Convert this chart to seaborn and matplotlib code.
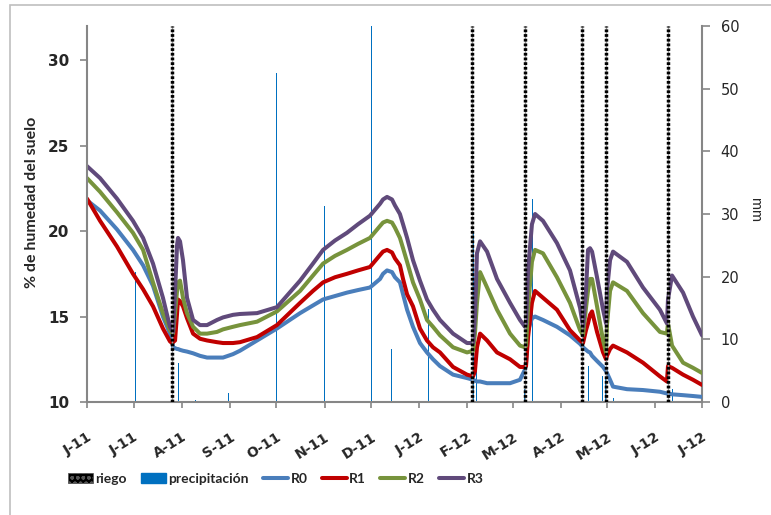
import pandas as pd
import matplotlib
matplotlib.use("Agg")
import matplotlib.pyplot as plt
from matplotlib.lines import Line2D
from matplotlib.patches import Patch, Rectangle
import seaborn as sns

inicio = pd.Timestamp("2011-06-01")

# días transcurridos desde el 1 de junio de 2011
dias = [0, 8.4, 19.3, 29.6, 36.1, 42.5, 48.9, 53.4, 54.7, 55.4,
        56.7, 58.0, 58.6, 59.9, 61.8, 64.4, 68.3, 72.8, 77.3, 83.7,
        87.6, 94.0, 98.5, 109.5, 122.3, 137.2, 145.5, 152.0, 159.7, 167.4,
        174.5, 182.2, 188.7, 190.6, 193.2, 196.4, 198.3, 201.5, 203.5, 206.1,
        209.9, 214.4, 218.9, 222.8, 227.3, 235.7, 244.7, 248.6, 249.8, 251.1,
        253.1, 257.6, 264.0, 272.4, 278.8, 282.0, 282.7, 284.0, 286.5, 288.5,
        293.6, 302.6, 311.0, 317.5, 319.4, 321.3, 322.6, 323.9, 325.2, 328.4,
        332.3, 334.2, 334.8, 336.8, 338.7, 347.7, 358.0, 368.9, 373.4, 374.1,
        376.7, 383.8, 390.2, 396.0]

r0 = [21.8, 21.2, 20.1, 18.9, 18.0, 16.8, 15.0, 14.0, 13.7, 13.2,
      13.15, 13.1, 13.1, 13.05, 13.0, 12.95, 12.85, 12.7, 12.6, 12.6,
      12.6, 12.8, 13.0, 13.6, 14.3, 15.2, 15.65, 16.0, 16.2, 16.4,
      16.55, 16.7, 17.2, 17.5, 17.7, 17.6, 17.3, 17.0, 16.3, 15.4,
      14.4, 13.45, 12.9, 12.5, 12.1, 11.6, 11.4, 11.3, 11.25, 11.2,
      11.2, 11.1, 11.1, 11.1, 11.3, 11.9, 12.3, 14.2, 14.9, 15.0,
      14.8, 14.4, 13.9, 13.4, 13.2, 13.05, 12.95, 12.9, 12.7, 12.4,
      12.05, 11.8, 11.7, 11.3, 10.9, 10.75, 10.7, 10.6, 10.5, 10.5,
      10.45, 10.4, 10.35, 10.3]

r1 = [21.9, 20.6, 19.1, 17.5, 16.6, 15.6, 14.3, 13.55, 13.45, 13.5,
      13.6, 15.2, 16.0, 15.9, 15.6, 14.9, 14.0, 13.7, 13.6, 13.5,
      13.45, 13.45, 13.5, 13.8, 14.5, 15.8, 16.5, 17.0, 17.3, 17.5,
      17.7, 17.9, 18.6, 18.8, 18.9, 18.75, 18.4, 18.0, 17.2, 16.3,
      15.6, 14.3, 13.6, 13.2, 12.9, 12.05, 11.6, 11.5, 11.8, 13.2,
      14.0, 13.6, 12.9, 12.5, 12.05, 12.05, 12.1, 13.8, 15.8, 16.5,
      16.1, 15.4, 14.2, 13.6, 13.45, 14.2, 14.6, 15.1, 15.3, 14.1,
      12.9, 12.5, 12.7, 13.1, 13.3, 12.9, 12.3, 11.5, 11.2, 12.1,
      12.0, 11.6, 11.3, 11.0]

r2 = [23.1, 22.3, 21.1, 19.9, 18.9, 17.0, 15.2, 14.2, 14.05, 14.0,
      15.2, 16.5, 17.0, 17.1, 16.1, 15.2, 14.4, 14.0, 14.0, 14.1,
      14.25, 14.4, 14.5, 14.7, 15.3, 16.5, 17.4, 18.1, 18.55, 18.9,
      19.25, 19.6, 20.3, 20.5, 20.6, 20.5, 20.2, 19.6, 19.0, 18.2,
      17.0, 16.0, 14.8, 14.4, 13.9, 13.2, 12.9, 13.0, 14.0, 15.8,
      17.6, 16.7, 15.4, 14.0, 13.3, 13.2, 13.3, 15.5, 18.2, 18.9,
      18.7, 17.3, 15.8, 14.2, 13.9, 15.5, 16.5, 17.2, 17.2, 15.6,
      13.6, 12.9, 14.5, 16.5, 17.0, 16.5, 15.2, 14.1, 14.0, 14.6,
      13.3, 12.3, 12.0, 11.7]

r3 = [23.8, 23.1, 21.9, 20.6, 19.6, 18.1, 16.1, 14.4, 14.2, 14.1,
      16.5, 19.2, 19.6, 19.4, 18.3, 16.1, 14.8, 14.5, 14.5, 14.8,
      14.95, 15.1, 15.15, 15.2, 15.55, 17.1, 18.1, 18.9, 19.45, 19.9,
      20.4, 20.9, 21.6, 21.85, 22.0, 21.85, 21.5, 21.0, 20.4, 19.6,
      18.3, 17.1, 16.0, 15.4, 14.8, 14.0, 13.45, 13.45, 15.0, 18.7,
      19.4, 18.8, 17.2, 15.8, 14.8, 14.4, 14.6, 17.7, 20.4, 21.0,
      20.6, 19.3, 17.7, 15.5, 14.4, 16.5, 18.9, 19.0, 18.8, 17.3,
      15.4, 14.6, 16.5, 18.3, 18.8, 18.2, 16.7, 15.4, 14.6, 16.0,
      17.4, 16.4, 15.0, 13.9]

lluvia_fechas = ["2011-06-01", "2011-07-02", "2011-07-26", "2011-07-30", "2011-08-10",
                 "2011-08-31", "2011-10-01", "2011-11-01", "2011-12-01", "2011-12-14",
                 "2012-01-07", "2012-02-05", "2012-02-07", "2012-03-09", "2012-03-14",
                 "2012-04-15", "2012-04-19", "2012-04-28", "2012-04-30", "2012-05-05",
                 "2012-06-12"]
lluvia_mm = [44, 20.7, 3, 6.2, 0.3,
             1.4, 52.5, 31.3, 60, 8.5,
             14.8, 27, 5, 2, 32.4,
             20, 5.7, 4.1, 4, 0.7,
             2]

riego_fechas = ["2011-07-26", "2012-02-04", "2012-03-09", "2012-04-15", "2012-04-30", "2012-06-09"]

etiquetas_meses = ["J-11", "J-11", "A-11", "S-11", "O-11", "N-11", "D-11",
                   "J-12", "F-12", "M-12", "A-12", "M-12", "J-12", "J-12"]

series = {"R0": r0, "R1": r1, "R2": r2, "R3": r3}
colores = {"R0": "#4A7EBB", "R1": "#C00000", "R2": "#77933C", "R3": "#604A7B"}
azul_lluvia = "#0070C0"
gris_eje = "#868686"

fechas = inicio + pd.to_timedelta(dias, unit="D")
humedad = pd.concat(
    [pd.DataFrame({"fecha": fechas, "humedad": v, "serie": k}) for k, v in series.items()],
    ignore_index=True,
)
lluvia = pd.DataFrame({"fecha": pd.to_datetime(lluvia_fechas), "mm": lluvia_mm})
riego = pd.to_datetime(riego_fechas)
meses = pd.date_range("2011-06-01", "2012-07-01", freq="MS")

sns.set_style("white")
plt.rcParams["font.family"] = ["DejaVu Sans"]

W, H = 771, 515
fig = plt.figure(figsize=(W / 100, H / 100), dpi=100)
fig.patches.append(Rectangle((10 / W, -0.1), 1.2, 1 - 5 / H + 0.1, transform=fig.transFigure,
                             fill=False, edgecolor="#BFBFBF", linewidth=1.2))

ax = fig.add_axes([87 / W, 1 - 402 / H, 615 / W, 376 / H])
ax2 = ax.twinx()

# precipitación en el eje secundario (mm)
ax2.bar(lluvia["fecha"], lluvia["mm"], width=0.8, color=azul_lluvia, linewidth=0)
ax2.set_ylim(0, 60)
ax2.set_yticks(range(0, 61, 10))

ax.set_zorder(ax2.get_zorder() + 1)
ax.patch.set_visible(False)

sns.lineplot(data=humedad, x="fecha", y="humedad", hue="serie", palette=colores,
             sort=False, estimator=None, linewidth=2.9, legend=False, ax=ax,
             solid_joinstyle="round", solid_capstyle="round")

# fechas de riego
for f in riego:
    ax.axvline(f, color="#9A9A9A", linewidth=1.0, zorder=5)
    ax.axvline(f, color="black", linewidth=2.5, linestyle=(0, (0.8, 0.55)), zorder=6)

ax.set_xlim(meses[0], meses[-1])
ax.set_ylim(10, 32)
ax.set_yticks([10, 15, 20, 25, 30])
ax.set_yticklabels(["10", "15", "20", "25", "30"], fontweight="bold", fontsize=11)
ax.set_xticks(meses)
ax.set_xticklabels(etiquetas_meses, rotation=32, ha="right", rotation_mode="anchor",
                   fontweight="bold", fontsize=10)
ax.set_xlabel("")
ax.set_ylabel("% de humedad del suelo", fontweight="bold", fontsize=11.5,
              family=["Lato", "DejaVu Sans"])
ax.yaxis.set_label_coords(-0.078, 0.53)

for s in ("top", "right"):
    ax.spines[s].set_visible(False)
for s in ("left", "bottom"):
    ax.spines[s].set_color(gris_eje)
    ax.spines[s].set_linewidth(1.5)
for s in ("top", "left", "bottom"):
    ax2.spines[s].set_visible(False)
ax2.spines["right"].set_color(gris_eje)
ax2.spines["right"].set_linewidth(1.5)

ax.tick_params(axis="y", direction="out", length=5, width=1.2, color=gris_eje, pad=8, left=True)
ax.tick_params(axis="x", direction="out", length=4, width=1.2, color=gris_eje, pad=16, bottom=True)
ax2.tick_params(axis="y", direction="out", length=5.5, width=1.2, color=gris_eje, pad=8,
                labelsize=10.5, right=True)

fig.text(755 / W, 1 - 210 / H, "mm", rotation=270, ha="center", va="center",
         fontsize=10.5, family=["Lato", "DejaVu Sans"])

handles = [
    Patch(facecolor="black", edgecolor="#555555", hatch="ooo", linewidth=0.5),
    Patch(facecolor=azul_lluvia, edgecolor=azul_lluvia),
] + [Line2D([], [], color=colores[k], linewidth=2.9) for k in series]
labels = ["riego", "precipitación"] + list(series)
fig.legend(handles, labels, loc="center left", bbox_to_anchor=(55 / W, 1 - 479 / H),
           ncol=6, frameon=False, handlelength=1.8, handletextpad=0.2, columnspacing=1.0,
           prop={"family": ["Lato", "DejaVu Sans"], "weight": "bold", "size": 10})

fig.savefig("out.png", dpi=100)
